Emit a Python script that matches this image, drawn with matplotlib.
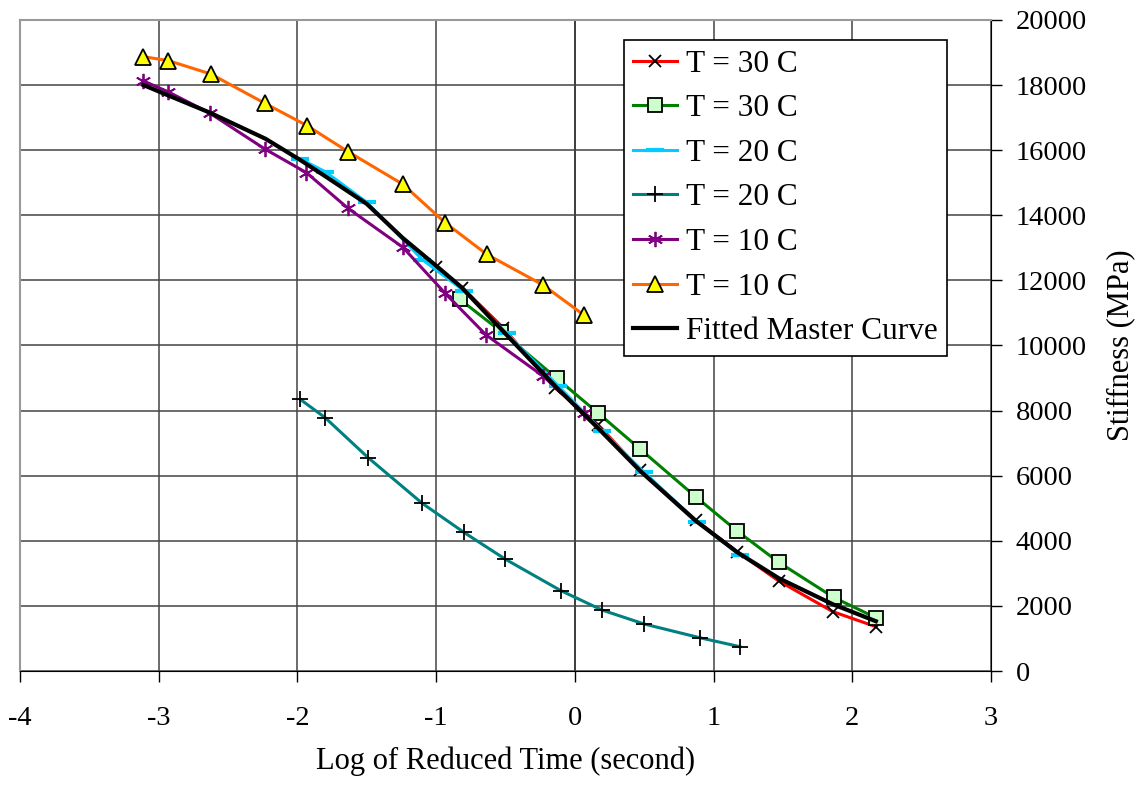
import numpy as np
import matplotlib
matplotlib.use("Agg")
import matplotlib.pyplot as plt

plt.rcParams['font.family'] = ['Liberation Serif', 'DejaVu Serif']
plt.rcParams['axes.unicode_minus'] = False

# T = 30 C (red, x markers)
x_30a = [-1.00, -0.81, -0.515, -0.14, 0.17, 0.47, 0.87, 1.17, 1.47, 1.86, 2.17]
y_30a = [12410, 11770, 10540, 8690, 7560, 6175, 4640, 3665, 2765, 1823, 1362]

# T = 30 C (green, squares)
x_30b = [-0.83, -0.53, -0.13, 0.17, 0.47, 0.87, 1.17, 1.47, 1.865, 2.17]
y_30b = [11420, 10425, 8990, 7915, 6820, 5356, 4301, 3339, 2264, 1638]

# T = 20 C (cyan, dash markers)
x_20a = [-1.98, -1.80, -1.50, -1.10, -0.80, -0.49, -0.12, 0.195, 0.495, 0.88, 1.19]
y_20a = [15730, 15340, 14400, 12640, 11683, 10370, 8756, 7382, 6123, 4587, 3564]

# T = 20 C (teal, plus markers)
x_20b = [-1.98, -1.80, -1.49, -1.10, -0.80, -0.50, -0.10, 0.195, 0.50, 0.90, 1.19]
y_20b = [8346, 7782, 6553, 5151, 4260, 3432, 2467, 1874, 1444, 1023, 747]

# T = 10 C (purple, asterisks)
x_10a = [-3.11, -2.93, -2.63, -2.235, -1.935, -1.635, -1.24, -0.935, -0.64, -0.23, 0.065]
y_10a = [18126, 17788, 17133, 16037, 15309, 14213, 13017, 11603, 10323, 9063, 7915]

# T = 10 C (orange, triangles)
x_10b = [-3.11, -2.93, -2.625, -2.235, -1.93, -1.635, -1.24, -0.935, -0.635, -0.23, 0.065]
y_10b = [18873, 18750, 18341, 17440, 16752, 15954, 14952, 13772, 12800, 11859, 10937]

# fitted master curve
x_fit = [-3.11, -2.93, -2.63, -2.23, -1.98, -1.80, -1.50, -1.24, -1.00, -0.82,
         -0.52, -0.13, 0.17, 0.47, 0.87, 1.17, 1.47, 1.86, 2.17]
y_fit = [18000, 17680, 17150, 16350, 15700, 15200, 14350, 13300, 12450, 11800,
         10450, 8700, 7450, 6150, 4620, 3650, 2850, 2050, 1530]

fig = plt.figure(figsize=(11.43, 7.86), dpi=100)
ax = fig.add_axes([0.0175, 0.1463, 0.8495, 0.8283])

ax.plot(x_30a, y_30a, color='#ff0000', lw=2.2, marker='x', ms=9, mec='black', mew=1.3,
        label='T = 30 C', zorder=3)
ax.plot(x_30b, y_30b, color='#008000', lw=2.2, marker='s', ms=10, mfc='#ccffcc', mec='black',
        mew=1.3, label='T = 30 C', zorder=3)
ax.plot(x_20a, y_20a, color='#00ccff', lw=2.2, marker='_', ms=13, mew=3, mec='#00ccff',
        label='T = 20 C', zorder=3)
ax.plot(x_20b, y_20b, color='#008080', lw=2.2, marker='+', ms=11, mec='black', mew=1.3,
        label='T = 20 C', zorder=3)
ax.plot(x_10a, y_10a, color='#800080', lw=2.2, marker=(6, 2, 0), ms=11, mec='#800080', mew=1.3,
        label='T = 10 C', zorder=3)
ax.plot(x_10b, y_10b, color='#ff6600', lw=2.2, marker='^', ms=11, mfc='#ffff00', mec='black',
        mew=1.3, label='T = 10 C', zorder=3)
ax.plot(x_fit, y_fit, color='black', lw=3, label='Fitted Master Curve', zorder=4)

ax.set_xlim(-4, 3)
ax.set_ylim(0, 20000)
ax.set_xticks(range(-4, 4))
ax.set_yticks(range(0, 20001, 2000))
ax.yaxis.tick_right()
ax.yaxis.set_label_position('right')
ax.tick_params(axis='both', direction='out', length=8, width=1, labelsize=20.5, colors='black')
ax.tick_params(axis='x', pad=17.5)
ax.tick_params(axis='y', pad=10)
ax.grid(True, color='#444444', lw=1.1, zorder=1)
ax.axvline(0, color='black', lw=1.1, zorder=1)

ax.spines['left'].set_color('#999999')
ax.spines['top'].set_color('#999999')
ax.spines['left'].set_linewidth(1.5)
ax.spines['top'].set_linewidth(1.5)
ax.spines['right'].set_color('black')
ax.spines['bottom'].set_color('black')

ax.set_xlabel('Log of Reduced Time (second)', fontsize=22, labelpad=11)
ax.set_ylabel('Stiffness (MPa)', fontsize=22, labelpad=14)

leg = ax.legend(loc='upper right', bbox_to_anchor=(0.955, 0.969), borderaxespad=0,
                fontsize=22.5, fancybox=False, edgecolor='black', framealpha=1,
                handlelength=1.4, handletextpad=0.3, labelspacing=0.5, borderpad=0.3)
leg.get_frame().set_linewidth(1.2)

fig.savefig('out.png', dpi=100)
